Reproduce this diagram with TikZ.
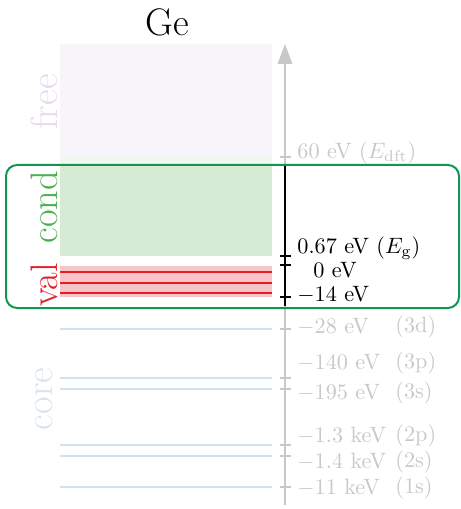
\documentclass[tikz,border=0pt]{standalone}
\usepackage{tikz}
\usetikzlibrary{arrows.meta}
\definecolor{freebg}{RGB}{247,245,249}
\definecolor{freetxt}{RGB}{232,217,236}
\definecolor{condbg}{RGB}{213,235,212}
\definecolor{condfade}{RGB}{239,247,238}
\definecolor{condtxt}{RGB}{76,175,80}
\definecolor{valbg}{RGB}{247,197,200}
\definecolor{valln}{RGB}{228,30,40}
\definecolor{coreln}{RGB}{212,226,239}
\definecolor{coretxt}{RGB}{214,227,240}
\definecolor{hilite}{RGB}{16,150,80}
\definecolor{faint}{RGB}{200,200,200}
\tikzset{
  side/.style={rotate=90,font=\LARGE,inner sep=0pt},
  lvl/.style={anchor=west,font=\normalsize,inner sep=0pt},
  orb/.style={anchor=west,font=\normalsize,inner sep=0pt,faint},
  tck/.style={line width=1.2pt},
  ax/.style={line width=0.9pt},
  coreline/.style={coreln,line width=0.9pt},
  valline/.style={valln,line width=0.9pt},
}

\begin{document}
\begin{tikzpicture}[x=0.45pt,y=-0.45pt]
  \useasboundingbox (0,0) rectangle (461,509);
  % bands
  \fill[freebg] (60,44) rectangle (272,156);
  \fill[condfade] (60,156) rectangle (272,166);
  \fill[condbg] (60,166) rectangle (272,256);
  \fill[valbg] (60,266) rectangle (272,297);
  \foreach \y in {272,283,293} \draw[valline] (60,\y) -- (272,\y);
  \foreach \y in {329,378,389,445,456,487} \draw[coreline] (60,\y) -- (272,\y);
  % title and band names
  \node[font=\LARGE] (title) at (167,22) {Ge};
  \node[side,freetxt] (free) at (44,102) {free};
  \node[side,condtxt] (cond) at (44,207) {cond};
  \node[side,valln] (val) at (44,285) {val};
  \node[side,coretxt] (core) at (44,399) {core};
  % energy axis
  \coordinate (axbot) at (285,505);
  \coordinate (axtop) at (285,44);
  \coordinate (boxtop) at (285,166);
  \coordinate (boxbot) at (285,306);
  \draw[ax,faint,-{Triangle[length=9pt,width=6.5pt]}] (axbot) -- (axtop);
  \draw[ax,black] (boxtop) -- (boxbot);
  \foreach \y in {157,329,378,389,445,456,487} \draw[tck,faint] (280,\y) -- (291,\y);
  \foreach \y in {256,265,297} \draw[tck,black] (280,\y) -- (291,\y);
  % level labels
  \node[lvl,faint] (edft) at (297,153) {60 eV ($E_{\mathrm{dft}}$)};
  \node[lvl] (egap) at (297,248) {0.67 eV ($E_{\mathrm{g}}$)};
  \node[lvl] (zero) at (313,270) {0 eV};
  \node[lvl] (vbot) at (297,295) {$-14$ eV};
  \node[lvl,faint] (e3d) at (297,327) {$-28$ eV};
  \node[orb] (o3d) at (395,327) {(3d)};
  \node[lvl,faint] (e3p) at (297,363) {$-140$ eV};
  \node[orb] (o3p) at (395,363) {(3p)};
  \node[lvl,faint] (e3s) at (297,393) {$-195$ eV};
  \node[orb] (o3s) at (395,393) {(3s)};
  \node[lvl,faint] (e2p) at (297,436) {$-1.3$ keV};
  \node[orb] (o2p) at (395,436) {(2p)};
  \node[lvl,faint] (e2s) at (297,462) {$-1.4$ keV};
  \node[orb] (o2s) at (395,462) {(2s)};
  \node[lvl,faint] (e1s) at (297,488) {$-11$ keV};
  \node[orb] (o1s) at (395,488) {(1s)};
  % highlighted window
  \draw[hilite,line width=0.9pt,rounded corners=5pt] (6,165) rectangle (459,308);
\end{tikzpicture}
\end{document}
